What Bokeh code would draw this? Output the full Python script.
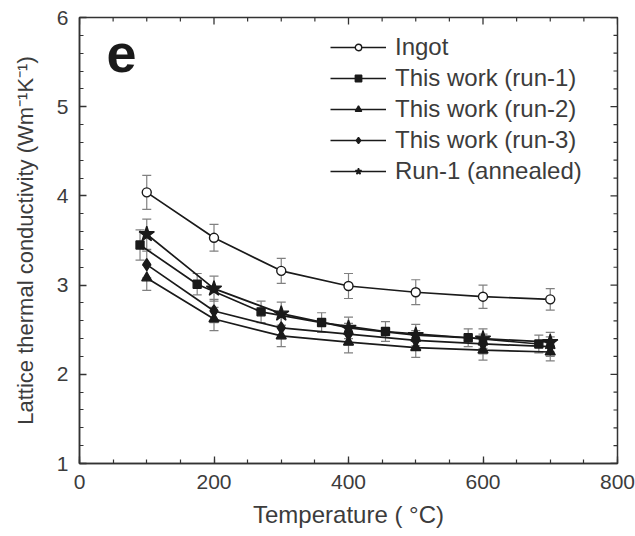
import numpy as np
from bokeh.plotting import figure
from bokeh.models import (LinearAxis, SingleIntervalTicker, Legend, LegendItem,
                          Whisker, TeeHead, ColumnDataSource, Label, Range1d)
from bokeh.embed import file_html
from bokeh.resources import INLINE

# ---- data ----
temps_ingot = [100, 200, 300, 400, 500, 600, 700]
k_ingot = [4.04, 3.53, 3.16, 2.99, 2.92, 2.87, 2.84]
err_ingot = [0.19, 0.15, 0.14, 0.14, 0.14, 0.13, 0.12]

temps_run1 = [90, 175, 270, 360, 455, 578, 683]
k_run1 = [3.45, 3.01, 2.70, 2.58, 2.48, 2.41, 2.34]
err_run1 = [0.17, 0.12, 0.12, 0.11, 0.11, 0.10, 0.10]

temps_runs = [100, 200, 300, 400, 500, 600, 700]
k_run2 = [3.08, 2.62, 2.43, 2.36, 2.30, 2.27, 2.25]
err_run2 = [0.14, 0.13, 0.12, 0.12, 0.11, 0.11, 0.10]
k_run3 = [3.23, 2.71, 2.52, 2.45, 2.38, 2.34, 2.31]
err_run3 = [0.15, 0.13, 0.12, 0.12, 0.11, 0.11, 0.11]
k_ann = [3.57, 2.96, 2.68, 2.52, 2.44, 2.40, 2.36]
err_ann = [0.17, 0.14, 0.13, 0.12, 0.12, 0.11, 0.11]

labels = ["Ingot", "This work (run-1)", "This work (run-2)",
          "This work (run-3)", "Run-1 (annealed)"]

x_min, x_max, x_major, x_minor = 0, 800, 200, 50
y_min, y_max, y_major, y_minor = 1, 6, 1, 0.2

FONT = "Liberation Sans"
TXT = "#3c3c3c"
AX = "#333333"
LINE = "#1a1a1a"
ERR = "#808080"

W, H = 635, 536
BL, BR, BT, BB = 79, 18, 17, 73
frame_w = W - BL - BR
frame_h = H - BT - BB

p = figure(width=W, height=H, output_backend="svg", toolbar_location=None,
           x_range=Range1d(x_min, x_max), y_range=Range1d(y_min, y_max),
           min_border_left=BL, min_border_right=BR, min_border_top=BT,
           min_border_bottom=BB, x_axis_location=None, y_axis_location=None)
p.outline_line_color = AX
p.outline_line_width = 1.5
p.grid.visible = False
p.background_fill_color = "white"
p.border_fill_color = "white"

MAJ_IN, MIN_IN = 7, 4


def style_axis(ax):
    ax.axis_line_color = AX
    ax.axis_line_width = 1.5
    ax.major_tick_line_color = AX
    ax.minor_tick_line_color = AX
    ax.major_tick_line_width = 1.3
    ax.minor_tick_line_width = 1.2
    ax.major_tick_in = MAJ_IN
    ax.major_tick_out = 0
    ax.minor_tick_in = MIN_IN
    ax.minor_tick_out = 0
    ax.major_label_text_font = FONT
    ax.major_label_text_font_size = "21px"
    ax.major_label_text_color = TXT
    ax.axis_label_text_font = FONT
    ax.axis_label_text_font_style = "normal"
    ax.axis_label_text_color = TXT


xb = LinearAxis(ticker=SingleIntervalTicker(interval=x_major, num_minor_ticks=int(x_major / x_minor)),
                axis_label="Temperature ( \u00b0C)")
style_axis(xb)
xb.axis_label_text_font_size = "24px"
xb.major_label_standoff = 11
xb.axis_label_standoff = 9
p.add_layout(xb, "below")

yl = LinearAxis(ticker=SingleIntervalTicker(interval=y_major, num_minor_ticks=int(round(y_major / y_minor))),
                axis_label="Lattice thermal conductivity (Wm\u207b\u00b9K\u207b\u00b9)")
style_axis(yl)
yl.axis_label_text_font_size = "22px"
yl.major_label_standoff = 11
yl.axis_label_standoff = 16
p.add_layout(yl, "left")

# inward ticks on the top and right frame edges (mirroring the axes)
x_px = frame_w / (x_max - x_min)
y_px = frame_h / (y_max - y_min)
xt_all = np.arange(x_min, x_max + 1e-9, x_minor)
xt_major = [t for t in xt_all if abs(t / x_major - round(t / x_major)) < 1e-6]
xt_minor = [t for t in xt_all if t not in xt_major]
yt_all = np.round(np.arange(y_min, y_max + 1e-9, y_minor), 6)
yt_major = [t for t in yt_all if abs(t / y_major - round(t / y_major)) < 1e-6]
yt_minor = [t for t in yt_all if t not in yt_major]

for ticks, ln, lw in ((xt_major, MAJ_IN, 1.3), (xt_minor, MIN_IN, 1.2)):
    p.segment(x0=ticks, y0=[y_max] * len(ticks), x1=ticks,
              y1=[y_max - ln / y_px] * len(ticks), line_color=AX, line_width=lw)
for ticks, ln, lw in ((yt_major, MAJ_IN, 1.3), (yt_minor, MIN_IN, 1.2)):
    p.segment(x0=[x_max] * len(ticks), y0=ticks, x1=[x_max - ln / x_px] * len(ticks),
              y1=ticks, line_color=AX, line_width=lw)

series = [
    (temps_ingot, k_ingot, err_ingot, "circle", 9, "white"),
    (temps_run1, k_run1, err_run1, "square", 8, LINE),
    (temps_runs, k_run2, err_run2, "triangle", 10, LINE),
    (temps_runs, k_run3, err_run3, "diamond", 12, LINE),
    (temps_runs, k_ann, err_ann, "star", 16, LINE),
]

items = []
for (xs, ys, es, marker, size, fill), lab in zip(series, labels):
    src = ColumnDataSource(dict(x=xs, y=ys,
                                lo=[a - b for a, b in zip(ys, es)],
                                hi=[a + b for a, b in zip(ys, es)]))
    w = Whisker(source=src, base="x", lower="lo", upper="hi", dimension="height",
                line_color=ERR, line_width=1.2,
                upper_head=TeeHead(size=9, line_color=ERR, line_width=1.2),
                lower_head=TeeHead(size=9, line_color=ERR, line_width=1.2))
    p.add_layout(w)
    ln = p.line("x", "y", source=src, line_color=LINE, line_width=1.7)
    sc = p.scatter("x", "y", source=src, marker=marker, size=size,
                   fill_color=fill, line_color=LINE, line_width=1.4)
    items.append(LegendItem(label=lab, renderers=[ln, sc]))

LEG_ROW, LEG_SP = 28, 3
leg_h = len(items) * LEG_ROW + (len(items) - 1) * LEG_SP
legend = Legend(items=items, location=(251, int(frame_h - 16 - leg_h)), orientation="vertical")
legend.border_line_color = None
legend.background_fill_alpha = 0
legend.label_text_font = FONT
legend.label_text_font_size = "24px"
legend.label_text_color = TXT
legend.glyph_width = 56
legend.glyph_height = 16
legend.label_height = LEG_ROW
legend.spacing = LEG_SP
legend.padding = 0
legend.margin = 0
legend.label_standoff = 9
p.add_layout(legend, "center")

p.add_layout(Label(x=40, y=5.385, text="e", text_font=FONT, text_font_size="54px",
                   text_font_style="bold", text_color="#1a1a1a"))

open("out.html", "w").write(file_html(p, INLINE))
